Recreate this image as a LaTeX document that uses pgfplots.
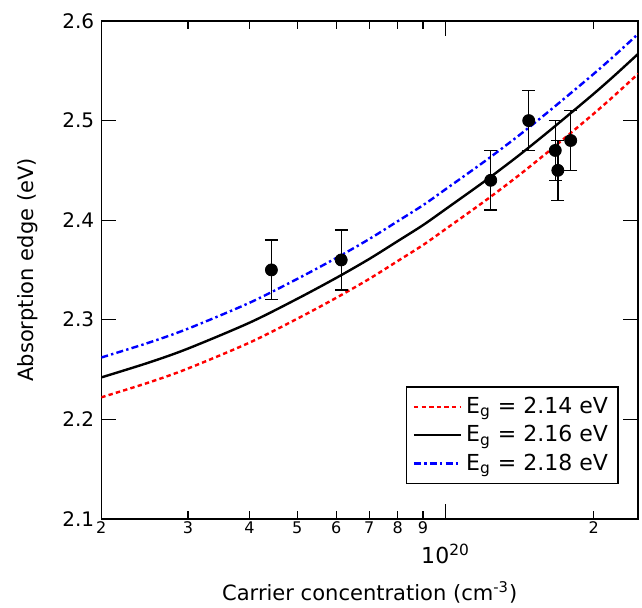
\documentclass[border=0pt]{standalone}
\usepackage{pgfplots}
\pgfplotsset{compat=1.18}
\usepackage{fontspec}
\setmainfont{DejaVu Sans}

\begin{document}
\begin{tikzpicture}
\begin{axis}[
    scale only axis,
    width=268pt, height=248.5pt,
    xmode=log,
    xmin=2e19, xmax=2.46e20,
    ymin=2.1, ymax=2.6,
    ytick={2.1,2.2,2.3,2.4,2.5,2.6},
    /pgf/number format/assume math mode=true,
    yticklabel style={/pgf/number format/fixed, /pgf/number format/precision=1,
        /pgf/number format/fixed zerofill, font=\fontsize{10}{12}\selectfont},
    xtick={1e20},
    xticklabels={10\textsuperscript{20}},
    xticklabel style={font=\fontsize{11}{13}\selectfont, yshift=-9.2pt},
    minor xtick={},
    extra x ticks={2e19,3e19,4e19,5e19,6e19,7e19,8e19,9e19,2e20},
    extra x tick labels={2,3,4,5,6,7,8,9,2},
    extra x tick style={major tick length=4pt,
        xticklabel style={font=\fontsize{8}{9}\selectfont, yshift=11.2pt}},
    major tick length=7.5pt,
    tick style={line width=0.6pt, black},
    axis line style={line width=0.7pt},
    xlabel={Carrier concentration (cm\textsuperscript{-3})},
    ylabel={Absorption edge (eV)},
    label style={font=\fontsize{10.5}{12}\selectfont},
    xlabel style={at={(axis description cs:0.5,-0.165)}, anchor=base},
    ylabel style={at={(axis description cs:-0.127,0.5)}, anchor=base},
    legend style={at={(0.964,0.07)}, anchor=south east, draw=black,
        line width=0.7pt, font=\fontsize{11}{13}\selectfont,
        inner sep=3pt, row sep=0.5pt},
    legend cell align=left,
    legend image code/.code={\draw[#1] (0pt,0pt) -- (23.5pt,0pt);},
]

% E_g = 2.14 eV
\addplot[red, line width=1.2pt, dash pattern=on 2.2pt off 1.6pt, smooth] coordinates {
    (2e19,2.222) (2.5e19,2.237) (3e19,2.251) (4e19,2.277) (5e19,2.301)
    (6e19,2.322) (7e19,2.341) (8e19,2.359) (9e19,2.375) (1e20,2.391)
    (1.2e20,2.419) (1.4e20,2.444) (1.6e20,2.467) (1.8e20,2.488) (2e20,2.507)
    (2.2e20,2.525) (2.46e20,2.547)
};
\addlegendentry{E\textsubscript{g} = 2.14 eV}

% E_g = 2.16 eV
\addplot[black, line width=1.2pt, smooth] coordinates {
    (2e19,2.242) (2.5e19,2.257) (3e19,2.271) (4e19,2.297) (5e19,2.321)
    (6e19,2.342) (7e19,2.361) (8e19,2.379) (9e19,2.395) (1e20,2.411)
    (1.2e20,2.439) (1.4e20,2.464) (1.6e20,2.487) (1.8e20,2.508) (2e20,2.527)
    (2.2e20,2.545) (2.46e20,2.567)
};
\addlegendentry{E\textsubscript{g} = 2.16 eV}

% E_g = 2.18 eV
\addplot[blue, line width=1.2pt, dash pattern=on 3.5pt off 1.6pt on 1.2pt off 1.6pt, smooth] coordinates {
    (2e19,2.262) (2.5e19,2.277) (3e19,2.291) (4e19,2.317) (5e19,2.341)
    (6e19,2.362) (7e19,2.381) (8e19,2.399) (9e19,2.415) (1e20,2.431)
    (1.2e20,2.459) (1.4e20,2.484) (1.6e20,2.507) (1.8e20,2.528) (2e20,2.547)
    (2.2e20,2.565) (2.46e20,2.587)
};
\addlegendentry{E\textsubscript{g} = 2.18 eV}

% measured points
\addplot[black, only marks, mark=*, mark size=3pt, forget plot,
    error bars/.cd, y dir=both, y explicit,
    error bar style={line width=0.7pt},
    error mark options={rotate=90, mark size=3.2pt, line width=0.7pt}]
coordinates {
    (4.43e19,2.35) +- (0,0.03)
    (6.14e19,2.36) +- (0,0.03)
    (1.235e20,2.44) +- (0,0.03)
    (1.475e20,2.50) +- (0,0.03)
    (1.67e20,2.47) +- (0,0.03)
    (1.69e20,2.45) +- (0,0.03)
    (1.795e20,2.48) +- (0,0.03)
};

\end{axis}
\pgfresetboundingbox
\path ([shift={(-50.5pt,-44.5pt)}]current axis.south west)
    rectangle ([shift={(2pt,10.5pt)}]current axis.north east);
\end{tikzpicture}
\end{document}
